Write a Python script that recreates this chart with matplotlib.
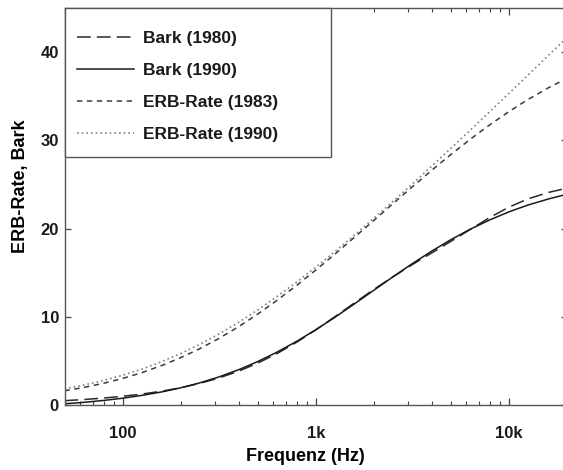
import matplotlib
matplotlib.use("Agg")
import matplotlib.pyplot as plt
from matplotlib.patches import Rectangle
from matplotlib.ticker import LogLocator, NullFormatter, FixedLocator, FixedFormatter

# Frequency grid (Hz), third-octave steps
freq = [50, 63, 80, 100, 125, 160, 200, 250, 315, 400, 500, 630, 800,
        1000, 1250, 1600, 2000, 2500, 3150, 4000, 5000, 6300, 8000,
        10000, 12500, 16000, 20000]

# Critical-band rate (Bark) and ERB-rate scales
bark_1980 = [0.49, 0.62, 0.79, 0.99, 1.23, 1.57, 1.96, 2.44, 3.06, 3.85,
             4.74, 5.83, 7.14, 8.51, 9.97, 11.63, 13.10, 14.51, 15.89,
             17.26, 18.54, 19.89, 21.28, 22.42, 23.35, 24.09, 24.58]
bark_1990 = [0.14, 0.30, 0.52, 0.77, 1.08, 1.49, 1.95, 2.50, 3.18, 4.01,
             4.92, 5.99, 7.24, 8.53, 9.91, 11.52, 13.01, 14.50, 16.00,
             17.46, 18.73, 19.92, 21.00, 21.89, 22.65, 23.35, 23.89]
erb_1983 = [1.61, 1.99, 2.47, 3.01, 3.65, 4.49, 5.37, 6.37, 7.54, 8.90,
            10.30, 11.86, 13.59, 15.29, 17.06, 19.08, 20.93, 22.79, 24.70,
            26.63, 28.38, 30.11, 31.79, 33.25, 34.60, 35.95, 37.03]
erb_1990 = [1.84, 2.26, 2.79, 3.37, 4.05, 4.93, 5.84, 6.86, 8.05, 9.39,
            10.77, 12.29, 13.97, 15.62, 17.34, 19.32, 21.16, 23.04, 25.02,
            27.11, 29.08, 31.14, 33.29, 35.32, 37.35, 39.61, 41.64]

series_labels = ["Bark (1980)", "Bark (1990)", "ERB-Rate (1983)", "ERB-Rate (1990)"]
x_tick_values = [100, 1000, 10000]
x_tick_labels = ["100", "1k", "10k"]
y_tick_values = [0, 10, 20, 30, 40]

plt.rcParams["font.family"] = ["Liberation Sans", "DejaVu Sans"]
plt.rcParams["font.weight"] = "bold"

fig = plt.figure(figsize=(5.63, 4.70), dpi=100)
ax = fig.add_axes([64.5 / 563, 65 / 470, 502.5 / 563, 397 / 470])

ax.plot(freq, bark_1980, color="#2a2a2a", lw=1.1, dashes=(9, 4), label=series_labels[0])
ax.plot(freq, bark_1990, color="#1a1a1a", lw=1.1, label=series_labels[1])
ax.plot(freq, erb_1983, color="#3a3a3a", lw=1.1, dashes=(3.5, 3), label=series_labels[2])
ax.plot(freq, erb_1990, color="#808080", lw=1.2, dashes=(1, 1.8), label=series_labels[3])

ax.set_xscale("log")
ax.set_xlim(50, 20000)
ax.set_ylim(0, 45)

ax.xaxis.set_major_locator(FixedLocator(x_tick_values))
ax.xaxis.set_major_formatter(FixedFormatter(x_tick_labels))
ax.xaxis.set_minor_locator(LogLocator(base=10, subs=range(2, 10)))
ax.xaxis.set_minor_formatter(NullFormatter())
ax.set_yticks(y_tick_values)

ax.tick_params(axis="both", which="both", direction="in", top=True, right=True,
               colors="#444444", labelcolor="#1a1a1a", labelsize=12)
ax.tick_params(axis="x", which="major", length=5, width=0.9, pad=15)
ax.tick_params(axis="x", which="minor", length=3, width=0.8)
ax.tick_params(axis="y", which="major", length=4, width=0.9, pad=4)
for lbl in ax.get_xticklabels() + ax.get_yticklabels():
    lbl.set_fontweight("bold")

for sp in ax.spines.values():
    sp.set_color("#555555")
    sp.set_linewidth(1.0)

ax.set_xlabel("Frequenz (Hz)", fontsize=13, fontweight="bold")
ax.xaxis.set_label_coords(0.479, -0.108)
ax.set_ylabel("ERB-Rate, Bark", fontsize=13, fontweight="bold", va="center")
ax.yaxis.set_label_coords(-0.087, 0.55)

# Legend frame drawn as a separate box in the upper-left corner
frame = Rectangle((0.0, 0.6247), 0.530, 1.0 - 0.6247, transform=ax.transAxes,
                  facecolor="white", edgecolor="#555555", linewidth=1.0,
                  zorder=4.5, clip_on=False)
ax.add_patch(frame)

leg = ax.legend(loc="upper left", bbox_to_anchor=(0.0, 0.972),
                borderaxespad=0, frameon=False, fontsize=12.5, handlelength=3.3,
                handletextpad=0.5, labelspacing=0.97, borderpad=0.7)
leg.set_zorder(5)
for t in leg.get_texts():
    t.set_fontweight("bold")
    t.set_color("#1a1a1a")

fig.savefig("out.png", dpi=100)
